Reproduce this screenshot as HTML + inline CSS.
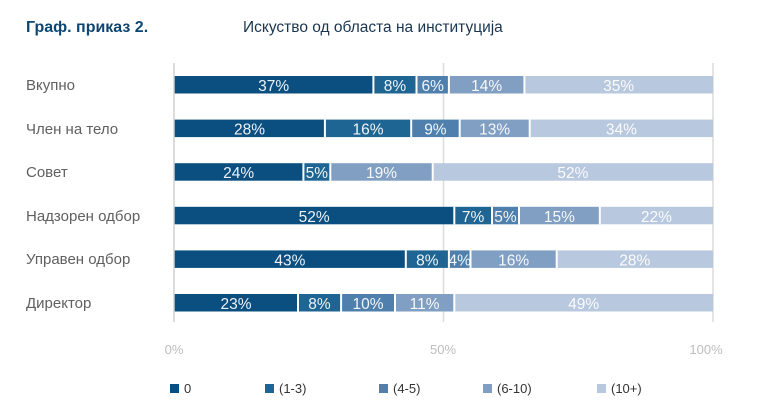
<!DOCTYPE html>
<html><head><meta charset="utf-8"><style>
html,body{margin:0;padding:0;background:#fff;}
svg{display:block;font-family:"Liberation Sans",sans-serif;}
.a{fill:#0b4f80}.b{fill:#1f6594}.c{fill:#4f80ad}.d{fill:#809fc2}.e{fill:#b8c8de}
.s{fill:#fff}
.p text{fill:#fff;fill-opacity:.93;font-size:15.5px;text-anchor:middle}
</style></head><body>
<svg width="758" height="408" viewBox="0 0 758 408" xmlns="http://www.w3.org/2000/svg">
<text x="26" y="32" font-size="16" font-weight="bold" fill="#0d4670">Граф. приказ 2.</text>
<text x="243" y="32" font-size="15.5" fill="#1a3550">Искуство од областа на институција</text>
<line x1="443.5" y1="63" x2="443.5" y2="322" stroke="#dcdcdc" stroke-width="1.5"/>
<line x1="713" y1="63" x2="713" y2="322" stroke="#dcdcdc" stroke-width="1.5"/>
<g class="p">
<!-- row1 -->
<rect class="a" x="174" y="76" width="199.4" height="17.5"/>
<rect class="b" x="373.4" y="76" width="43.1" height="17.5"/>
<rect class="c" x="416.5" y="76" width="32.4" height="17.5"/>
<rect class="d" x="448.9" y="76" width="75.5" height="17.5"/>
<rect class="e" x="524.4" y="76" width="188.6" height="17.5"/>
<rect class="s" x="372.4" y="76" width="2" height="17.5"/><rect class="s" x="415.5" y="76" width="2" height="17.5"/><rect class="s" x="447.9" y="76" width="2" height="17.5"/><rect class="s" x="523.4" y="76" width="2" height="17.5"/>
<text x="273.7" y="91">37%</text><text x="395" y="91">8%</text><text x="432.7" y="91">6%</text><text x="486.6" y="91">14%</text><text x="618.7" y="91">35%</text>
<!-- row2 -->
<rect class="a" x="174" y="119.6" width="150.9" height="17.5"/>
<rect class="b" x="324.9" y="119.6" width="86.3" height="17.5"/>
<rect class="c" x="411.2" y="119.6" width="48.5" height="17.5"/>
<rect class="d" x="459.7" y="119.6" width="70" height="17.5"/>
<rect class="e" x="529.7" y="119.6" width="183.3" height="17.5"/>
<rect class="s" x="323.9" y="119.6" width="2" height="17.5"/><rect class="s" x="410.2" y="119.6" width="2" height="17.5"/><rect class="s" x="458.7" y="119.6" width="2" height="17.5"/><rect class="s" x="528.7" y="119.6" width="2" height="17.5"/>
<text x="249.5" y="134.6">28%</text><text x="368" y="134.6">16%</text><text x="435.4" y="134.6">9%</text><text x="494.7" y="134.6">13%</text><text x="621.4" y="134.6">34%</text>
<!-- row3 -->
<rect class="a" x="174" y="163.2" width="129.4" height="17.5"/>
<rect class="b" x="303.4" y="163.2" width="26.9" height="17.5"/>
<rect class="d" x="330.3" y="163.2" width="102.4" height="17.5"/>
<rect class="e" x="432.7" y="163.2" width="280.3" height="17.5"/>
<rect class="s" x="302.4" y="163.2" width="2" height="17.5"/><rect class="s" x="329.3" y="163.2" width="2" height="17.5"/><rect class="s" x="431.7" y="163.2" width="2" height="17.5"/>
<text x="238.7" y="178.2">24%</text><text x="316.8" y="178.2">5%</text><text x="381.5" y="178.2">19%</text><text x="572.9" y="178.2">52%</text>
<!-- row4 -->
<rect class="a" x="174" y="206.8" width="280.3" height="17.5"/>
<rect class="b" x="454.3" y="206.8" width="37.7" height="17.5"/>
<rect class="c" x="492" y="206.8" width="27" height="17.5"/>
<rect class="d" x="519" y="206.8" width="80.8" height="17.5"/>
<rect class="e" x="599.8" y="206.8" width="113.2" height="17.5"/>
<rect class="s" x="453.3" y="206.8" width="2" height="17.5"/><rect class="s" x="491" y="206.8" width="2" height="17.5"/><rect class="s" x="518" y="206.8" width="2" height="17.5"/><rect class="s" x="598.8" y="206.8" width="2" height="17.5"/>
<text x="314.1" y="221.8">52%</text><text x="473.1" y="221.8">7%</text><text x="505.5" y="221.8">5%</text><text x="559.4" y="221.8">15%</text><text x="656.4" y="221.8">22%</text>
<!-- row5 -->
<rect class="a" x="174" y="250.4" width="231.8" height="17.5"/>
<rect class="b" x="405.8" y="250.4" width="43.1" height="17.5"/>
<rect class="c" x="448.9" y="250.4" width="21.6" height="17.5"/>
<rect class="d" x="470.5" y="250.4" width="86.2" height="17.5"/>
<rect class="e" x="556.7" y="250.4" width="156.3" height="17.5"/>
<rect class="s" x="404.8" y="250.4" width="2" height="17.5"/><rect class="s" x="447.9" y="250.4" width="2" height="17.5"/><rect class="s" x="469.5" y="250.4" width="2" height="17.5"/><rect class="s" x="555.7" y="250.4" width="2" height="17.5"/>
<text x="289.9" y="265.4">43%</text><text x="427.3" y="265.4">8%</text><text x="459.7" y="265.4">4%</text><text x="513.6" y="265.4">16%</text><text x="634.8" y="265.4">28%</text>
<!-- row6 -->
<rect class="a" x="174" y="294" width="124" height="17.5"/>
<rect class="b" x="298" y="294" width="43.1" height="17.5"/>
<rect class="c" x="341.1" y="294" width="53.9" height="17.5"/>
<rect class="d" x="395" y="294" width="59.3" height="17.5"/>
<rect class="e" x="454.3" y="294" width="258.7" height="17.5"/>
<rect class="s" x="297" y="294" width="2" height="17.5"/><rect class="s" x="340.1" y="294" width="2" height="17.5"/><rect class="s" x="394" y="294" width="2" height="17.5"/><rect class="s" x="453.3" y="294" width="2" height="17.5"/>
<text x="236" y="309">23%</text><text x="319.5" y="309">8%</text><text x="368" y="309">10%</text><text x="424.6" y="309">11%</text><text x="583.6" y="309">49%</text>
</g>
<line x1="174" y1="63" x2="174" y2="322" stroke="#d0d0d0" stroke-width="1.5"/>
<g font-size="15" fill="#606060">
<text x="26" y="90">Вкупно</text>
<text x="26" y="134">Член на тело</text>
<text x="26" y="177">Совет</text>
<text x="26" y="221">Надзорен одбор</text>
<text x="26" y="264">Управен одбор</text>
<text x="26" y="308">Директор</text>
</g>
<g font-size="13" fill="#bdbdbd" text-anchor="middle">
<text x="174" y="354">0%</text><text x="443" y="354">50%</text><text x="706" y="354">100%</text>
</g>
<g font-size="13" fill="#333">
<rect x="170" y="384" width="9" height="9" fill="#0b4f80"/><text x="184" y="393">0</text>
<rect x="265" y="384" width="9" height="9" fill="#1f6594"/><text x="279" y="393">(1-3)</text>
<rect x="379" y="384" width="9" height="9" fill="#4f80ad"/><text x="393" y="393">(4-5)</text>
<rect x="483" y="384" width="9" height="9" fill="#809fc2"/><text x="497" y="393">(6-10)</text>
<rect x="597" y="384" width="9" height="9" fill="#b8c8de"/><text x="611" y="393">(10+)</text>
</g>
</svg>
</body></html>
